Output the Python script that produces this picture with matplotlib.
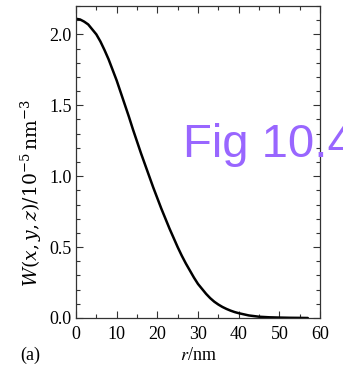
import matplotlib
matplotlib.use("Agg")
import matplotlib.pyplot as plt
from matplotlib.ticker import MultipleLocator, FormatStrFormatter

# Data
r_nm = [0, 1, 2, 3, 4, 5, 6, 7, 8, 9, 10, 11, 12, 13, 14, 15, 16, 17, 18, 19,
        20, 21, 22, 23, 24, 25, 26, 27, 28, 29, 30, 31, 32, 33, 34, 35, 36,
        37, 38, 39, 40, 42.5, 45, 47.5, 50, 52.5, 55, 57]
W_vals = [2.11, 2.105, 2.09, 2.07, 2.035, 2.00, 1.95, 1.89, 1.825, 1.75,
          1.675, 1.59, 1.505, 1.42, 1.33, 1.245, 1.16, 1.08, 1.00, 0.92,
          0.845, 0.77, 0.70, 0.63, 0.565, 0.50, 0.44, 0.385, 0.335, 0.285,
          0.24, 0.205, 0.17, 0.14, 0.115, 0.095, 0.078, 0.064, 0.052, 0.042,
          0.034, 0.018, 0.009, 0.005, 0.003, 0.0015, 0.0008, 0.0]
x_ticks = [0, 10, 20, 30, 40, 50, 60]
y_ticks = [0.0, 0.5, 1.0, 1.5, 2.0]

plt.rcParams['font.family'] = ['Liberation Serif', 'DejaVu Serif']
plt.rcParams['mathtext.fontset'] = 'stix'

W, H = 343, 367
fig = plt.figure(figsize=(W / 100, H / 100), dpi=100)
ax = fig.add_axes([76 / W, (H - 318) / H, (320 - 76) / W, (318 - 6) / H])

ax.plot(r_nm, W_vals, color='black', lw=1.8, solid_capstyle='round',
        solid_joinstyle='round')

ax.set_xlim(0, 60)
ax.set_ylim(0, 2.2)
ax.set_xticks(x_ticks)
ax.set_yticks(y_ticks)
ax.xaxis.set_minor_locator(MultipleLocator(5))
ax.yaxis.set_minor_locator(MultipleLocator(0.1))
ax.yaxis.set_major_formatter(FormatStrFormatter('%.1f'))
ax.tick_params(which='both', direction='in', top=True, right=True,
               labelsize=13, color='#333333', width=0.8)
ax.tick_params(which='major', length=5)
ax.tick_params(which='minor', length=3)
ax.tick_params(axis='x', pad=6)
ax.tick_params(axis='y', pad=3)
for s in ax.spines.values():
    s.set_linewidth(0.9)
    s.set_color('#333333')

fig.text(198 / W, 1 - 355 / H, r'$r$/nm', ha='center', va='center', fontsize=13)
fig.text(31 / W, 1 - 193 / H, r'$W(x,y,z)/10^{-5}\,\mathrm{nm}^{-3}$',
         ha='center', va='center', rotation=90, fontsize=13.5,
         math_fontfamily='dejavuserif')
fig.text(20 / W, 1 - 355 / H, '(a)', ha='left', va='center', fontsize=13)

fig.text(183 / W, 1 - 157 / H, 'Fig 10.4', ha='left', va='baseline',
         fontsize=34, color='#9966ff', family='Liberation Sans')

fig.savefig('out.png', dpi=100)
